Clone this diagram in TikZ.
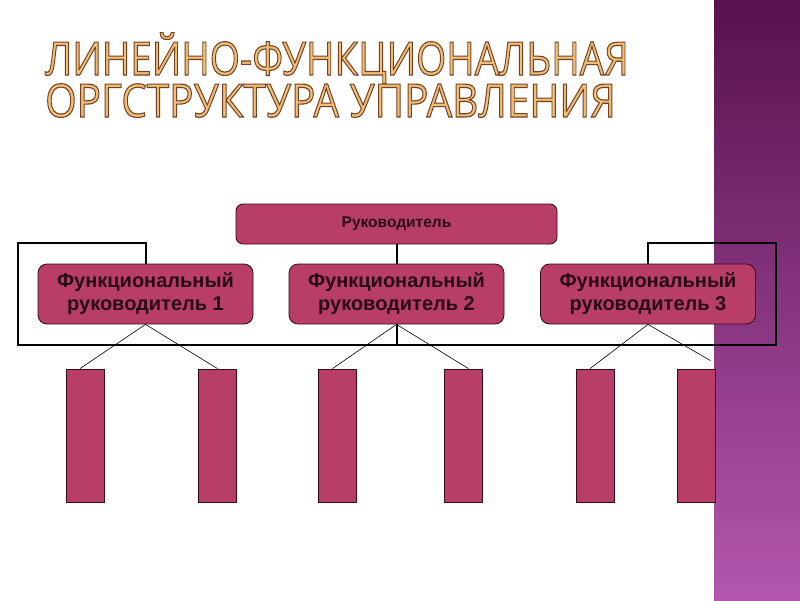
\documentclass[tikz,border=0pt]{standalone}
\usepackage{fontspec}
\setmainfont{Liberation Sans}
\newfontfamily\titlefont{Open Sans}

\definecolor{boxfill}{RGB}{184,62,104}
\definecolor{boxline}{RGB}{50,10,25}
\definecolor{boxtext}{RGB}{40,8,20}
\definecolor{bandtop}{RGB}{88,18,78}
\definecolor{bandbot}{RGB}{180,86,174}
\definecolor{titlegold}{RGB}{242,190,118}

% outlined title letters (fill and stroke)
\newcommand{\outlined}[1]{\special{pdf:code q 2 Tr 1.1 w 0.45 0.26 0.14 RG}#1\special{pdf:code Q}}

\tikzset{
  head/.style={draw=boxline, fill=boxfill, rounded corners=7pt, line width=0.8pt,
    minimum width=321pt, minimum height=40pt, inner sep=0pt, text=boxtext,
    font=\bfseries\fontsize{15.5}{18}\selectfont},
  func/.style={draw=boxline, fill=boxfill, rounded corners=9pt, line width=0.8pt,
    minimum width=215pt, minimum height=60pt, inner sep=0pt, text=boxtext,
    align=center, font=\bfseries\fontsize{20}{23}\selectfont},
  unit/.style={draw=boxline, fill=boxfill, line width=0.8pt,
    minimum width=38pt, minimum height=133pt, inner sep=0pt},
  frame/.style={draw=black, line width=2pt},
  link/.style={draw=black, line width=0.6pt},
  heading/.style={anchor=base west, inner sep=0pt, text=titlegold,
    font=\titlefont\fontsize{46}{46}\selectfont, transform shape},
}

\begin{document}
\begin{tikzpicture}[x=1pt, y=-1pt]

  % Page and side band
  \useasboundingbox (0,0) rectangle (800,600);
  \fill[white] (0,0) rectangle (800,600);
  \shade[top color=bandtop, bottom color=bandbot] (714,0) rectangle (800,600);

  % Title
  \node[heading, xscale=0.84] (title1) at (45,75)  {\outlined{ЛИНЕЙНО-ФУНКЦИОНАЛЬНАЯ}}; %
  \node[heading, xscale=0.88] (title2) at (45,117) {\outlined{ОРГСТРУКТУРА УПРАВЛЕНИЯ}}; %

  % Frame corners
  \coordinate (framel) at (18,345); %
  \coordinate (framer) at (776,243); %

  % Head
  \node[head] (boss) at (396.5,224) {Руководитель}; %

  % Functional heads
  \node[func] (f1) at (145.5,294) {Функциональный\\руководитель 1}; %
  \node[func] (f2) at (396.5,294) {Функциональный\\руководитель 2}; %
  \node[func] (f3) at (648,294)   {Функциональный\\руководитель 3}; %

  % Units
  \node[unit] (u1) at (85,435.5)    {}; %
  \node[unit] (u2) at (217.5,435.5) {}; %
  \node[unit] (u3) at (337.5,435.5) {}; %
  \node[unit] (u4) at (463.5,435.5) {}; %
  \node[unit] (u5) at (595,435.5)   {}; %
  \node[unit] (u6) at (696.5,435.5) {}; %

  % Line links
  \draw[frame] (f1.north) -- ++(0,-21) -| (framel) -| (framer) -| (f3.north); %
  \draw[frame] (boss.south) -- (f2.north); %
  \draw[frame] (f2.south) -- (f2.south |- framel); %

  % Functional links
  \draw[link] ([xshift=-5pt]u1.north) -- (f1.south) -- (u2.north); %
  \draw[link] ([xshift=-5pt]u3.north) -- (f2.south) -- ([xshift=5pt]u4.north); %
  \draw[link] ([xshift=-5pt]u5.north) -- (f3.south) -- ([xshift=14pt,yshift=8pt]u6.north); %

\end{tikzpicture}
\end{document}
